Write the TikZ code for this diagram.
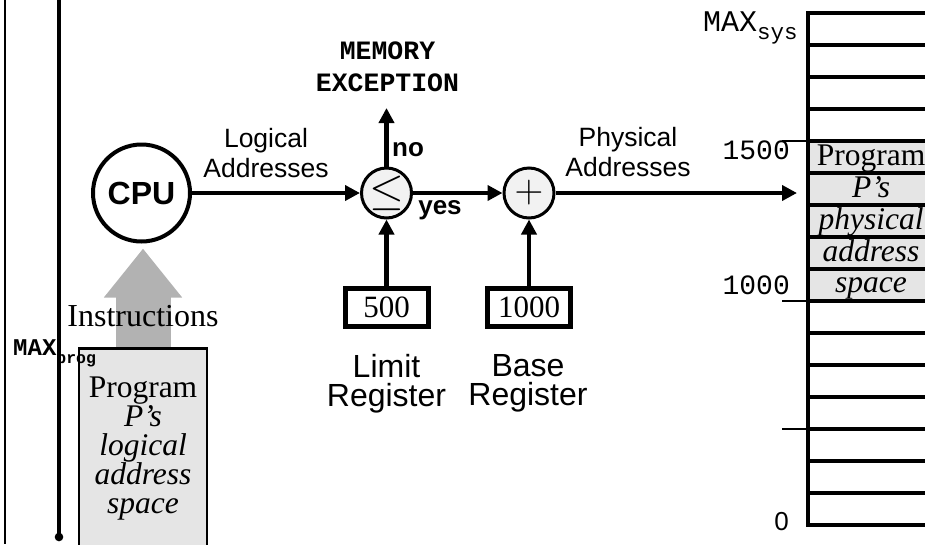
\documentclass[tikz,border=0pt]{standalone}
\usepackage{fontspec}
\setmainfont{Liberation Serif}
\setsansfont{Liberation Sans}
\setmonofont{Liberation Mono}
\usetikzlibrary{arrows.meta}

\newcommand{\fsz}[2]{\fontsize{#1}{#2}\selectfont}

\tikzset{
  arr/.style={line width=4.5pt, -{Triangle[length=15pt,width=15pt]}},
  opcircle/.style={circle, draw, line width=3pt, fill=black!5, minimum size=50pt, inner sep=0pt, font=\fsz{24.88}{30}},
  regbox/.style={draw, line width=5pt, minimum width=83pt, minimum height=38pt, inner sep=0pt, font=\fsz{31}{31}},
  sflabel/.style={font=\sffamily\fsz{26.5}{30}, align=center, inner sep=0pt},
  reglabel/.style={font=\sffamily\fsz{32}{29}, align=center, inner sep=0pt, anchor=north},
  boldlabel/.style={font=\sffamily\bfseries\fsz{26}{26}, inner sep=0pt},
  memline/.style={line width=4pt},
  tickline/.style={line width=2pt},
  celltext/.style={font=\fsz{31.5}{31.5}, anchor=base, inner sep=0pt},
  addrlabel/.style={font=\ttfamily\fsz{28}{28}, anchor=base east, inner sep=0pt},
}

\begin{document}
\begin{tikzpicture}[x=1pt,y=-1pt]
\useasboundingbox (0,0) rectangle (925,544);
\clip (0,0) rectangle (925,544);

% left rails of the logical address space
\draw[line width=2pt] (5,0) -- (5,544);
\draw[line width=4.3pt] (59,0) -- (59,537);
\fill (59,537) circle (4.3pt);

% program P in its logical address space
\node[draw, line width=2.5pt, fill=black!10, minimum width=128pt, minimum height=240pt,
      anchor=north, inner sep=0pt] (prog) at (143,347) {};
\node[anchor=north, align=center, inner sep=0pt, font=\fsz{31.5}{29}] (progtxt) at (143,377)
  {Program\\\textit{P's}\\\textit{logical}\\\textit{address}\\\textit{space}};
\node[anchor=base west, inner sep=0pt, font=\ttfamily\bfseries\fsz{24}{24}] (maxprog) at (13,355)
  {MAX\raisebox{-8pt}{\fsz{16.5}{16.5}prog}};

% CPU and the address translation hardware
\node[circle, draw, line width=4pt, minimum size=97pt, inner sep=0pt,
      font=\sffamily\bfseries\fsz{32}{32}] (cpu) at (141.5,193) {CPU};
\node[opcircle] (cmp) at (386.5,193) {\scalebox{1.8}{$\le$}};
\node[opcircle] (add) at (529,193) {\scalebox{1.6}{$+$}};
\node[regbox] (limit) at (386.5,307.5) {500};
\node[regbox] (base) at (529,307.5) {1000};

% instruction fetch
\draw[line width=55pt, black!30, shorten >=5pt, -{Triangle[length=49pt,width=75pt]}]
  (prog.north) -- (prog.north |- cpu.south);
\node[anchor=base, inner sep=0pt, font=\fsz{32}{32}] (instr) at (143,326) {Instructions};

% address path
\coordinate (memIn) at (797,193);
\coordinate (excTip) at (386.5,108);
\draw[arr] (cpu) -- (cmp);
\draw[arr] (cmp) -- (add);
\draw[arr] (add) -- (memIn);
\draw[arr] (limit) -- (cmp);
\draw[arr] (base) -- (add);
\draw[arr] (cmp) -- (excTip);

\node[anchor=south, align=center, inner sep=0pt, font=\ttfamily\bfseries\fsz{26.5}{32}] (exc) at (387.5,92)
  {MEMORY\\EXCEPTION};
\node[sflabel, anchor=south] (logaddr) at (266,178) {Logical\\Addresses};
\node[sflabel, anchor=south] (physaddr) at (628,177) {Physical\\Addresses};
\node[boldlabel] (no) at (408,150) {no};
\node[boldlabel] (yes) at (440,210) {yes};
\node[reglabel] (limitlbl) at (386.5,354) {Limit\\Register};
\node[reglabel] (baselbl) at (528,354) {Base\\Register};

% physical memory
\fill[black!10] (808,141) rectangle (930,301);
\node[celltext] (c1) at (871,165) {Program};
\node[celltext] (c2) at (871,197) {\textit{P's}};
\node[celltext] (c3) at (871,229) {\textit{physical}};
\node[celltext] (c4) at (871,261) {\textit{address}};
\node[celltext] (c5) at (871,292) {\textit{space}};
\foreach \k in {0,...,16}
  \draw[memline] (806,{13+32*\k}) -- (930,{13+32*\k});
\draw[memline] (807.5,11) -- (807.5,527);
\draw[tickline] (782,141) -- (807,141);
\draw[tickline] (782,301) -- (807,301);
\draw[tickline] (782,429) -- (807,429);

\node[anchor=base west, inner sep=0pt, font=\ttfamily\fsz{30}{30}] (maxsys) at (703,31)
  {MAX\raisebox{-8pt}{\fsz{22.5}{22.5}sys}};
\node[addrlabel] (a1500) at (790,159) {1500};
\node[addrlabel] (a1000) at (790,294) {1000};
\node[anchor=base east, inner sep=0pt, font=\sffamily\fsz{26}{26}] (a0) at (789,530) {0};
\end{tikzpicture}
\end{document}
